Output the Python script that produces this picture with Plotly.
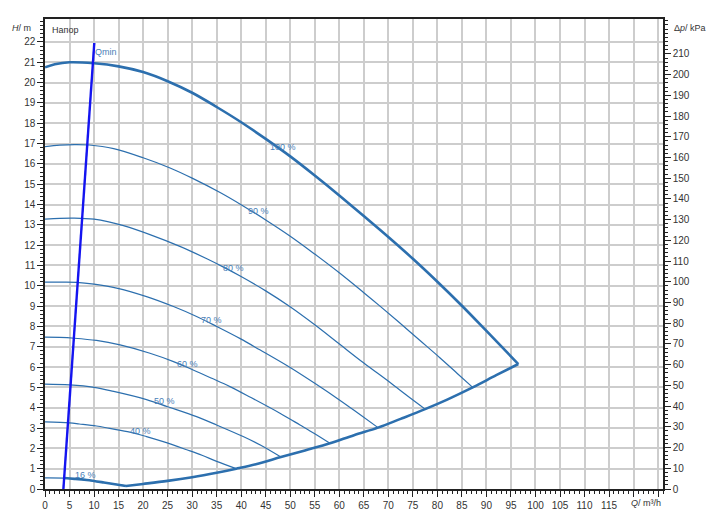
import plotly.graph_objects as go

# ---------------- data ----------------
KPA_PER_M = 9.807
X_MAX = 126.0
Y_MAX = 23.13

q100 = [0, 2, 5, 10, 15, 20, 25, 30, 35, 40, 45, 50, 55, 60, 65, 70, 75, 80, 85, 90, 96.5]
h100 = [20.75, 20.9, 21.0, 20.95, 20.8, 20.52, 20.07, 19.5, 18.8, 18.05, 17.23, 16.37, 15.43, 14.45, 13.43, 12.4, 11.33, 10.2, 9.02, 7.78, 6.15]

q90 = [0, 3, 6, 9, 14, 20, 25.5, 30, 35.7, 40.4, 45, 50, 55, 60, 65, 68.3, 72, 76.4, 80.5, 84, 87.2]
h90 = [16.85, 16.92, 16.95, 16.93, 16.75, 16.3, 15.8, 15.3, 14.59, 13.93, 13.24, 12.44, 11.56, 10.64, 9.66, 9.0, 8.24, 7.32, 6.46, 5.7, 5.0]

q80 = [0, 3, 6, 10, 13, 16, 21.4, 27.5, 33, 36.4, 39.8, 45, 49.9, 55, 60.1, 65, 70.3, 74, 77.5]
h80 = [13.28, 13.32, 13.33, 13.28, 13.15, 12.96, 12.52, 11.94, 11.33, 10.92, 10.48, 9.75, 8.98, 8.08, 7.12, 6.2, 5.25, 4.56, 3.93]

q70 = [0, 3, 6.5, 10, 14.6, 20.7, 26.2, 30.9, 35, 39.8, 43.8, 49.9, 55, 60.1, 64, 67.9]
h70 = [10.18, 10.18, 10.17, 10.08, 9.89, 9.47, 8.98, 8.49, 8.0, 7.4, 6.85, 5.99, 5.2, 4.37, 3.7, 3.02]

q60 = [0, 3, 6, 10.5, 15.3, 21.4, 26.2, 30.2, 34, 37.7, 42, 47.9, 52, 55, 58.1]
h60 = [7.47, 7.46, 7.42, 7.31, 7.09, 6.68, 6.27, 5.86, 5.45, 5.04, 4.5, 3.73, 3.15, 2.72, 2.25]

q50 = [0, 5, 10, 14, 20.7, 25, 30.9, 35, 40.4, 44, 48.1]
h50 = [5.16, 5.12, 5.0, 4.8, 4.4, 4.05, 3.56, 3.15, 2.58, 2.15, 1.57]

q40 = [0, 5, 7, 10.5, 13.2, 17.3, 20.7, 24.1, 28.9, 32, 35, 39]
h40 = [3.3, 3.25, 3.2, 3.1, 2.98, 2.8, 2.58, 2.33, 1.93, 1.66, 1.36, 1.0]

q16 = [0, 3.9, 6, 8.5, 12, 16.5]
h16 = [0.55, 0.54, 0.5, 0.44, 0.32, 0.15]

q_sys = [16.5, 20, 25, 30, 35, 39, 43, 48.1, 53, 58.1, 63, 67.9, 72.5, 77.5, 82, 87.2, 92, 96.5]
h_sys = [0.15, 0.25, 0.4, 0.58, 0.8, 1.0, 1.22, 1.57, 1.9, 2.25, 2.65, 3.02, 3.45, 3.93, 4.4, 5.0, 5.6, 6.15]

q_min = [3.75, 10.05]
h_min = [0.0, 21.95]

label_text = ["Qmin", "100 %", "90 %", "80 %", "70 %", "60 %", "50 %", "40 %", "16 %"]
label_q = [12.4, 48.6, 43.6, 38.5, 33.9, 29.0, 24.3, 19.4, 8.2]
label_h = [21.5, 16.85, 13.66, 10.9, 8.33, 6.16, 4.35, 2.87, 0.69]

x_ticks = list(range(0, 130, 5))
x_ticktext = [str(v) if v <= 115 else "" for v in x_ticks]
y_ticks = list(range(0, 23))
kpa_ticks = list(range(0, 220, 10))

# ---------------- styles ----------------
CURVE = "#2c6fae"
THICK = 2.6
THIN = 1.2
FONT = "Liberation Sans, Arial, sans-serif"
TXT = "#333333"
GRID = "#cdcdcd"

fig = go.Figure()

def add_curve(q, h, width):
    fig.add_trace(go.Scatter(x=q, y=h, mode="lines",
                             line=dict(color=CURVE, width=width, shape="spline", smoothing=1.0),
                             hoverinfo="skip", showlegend=False))

for q, h in [(q90, h90), (q80, h80), (q70, h70), (q60, h60), (q50, h50), (q40, h40)]:
    add_curve(q, h, THIN)

add_curve(q16, h16, THIN)
# thick boundary part of the 16 % curve (right of Qmin)
add_curve([q for q in q16 if q >= q_min[0]], [h for q, h in zip(q16, h16) if q >= q_min[0]], THICK)
add_curve(q_sys, h_sys, THICK)
add_curve(q100, h100, THICK)

fig.add_trace(go.Scatter(x=q_min, y=h_min, mode="lines",
                         line=dict(color="#1414f0", width=2.4),
                         hoverinfo="skip", showlegend=False))

# invisible trace to enable the right axis
fig.add_trace(go.Scatter(x=[0], y=[0], yaxis="y2", mode="markers",
                         marker=dict(opacity=0), hoverinfo="skip", showlegend=False))

for t, q, h in zip(label_text, label_q, label_h):
    fig.add_annotation(x=q, y=h, text=t, showarrow=False,
                       font=dict(family=FONT, size=9, color="#4a80b8"),
                       xanchor="center", yanchor="middle")

fig.add_annotation(x=1.0, y=22.6, text="Напор", showarrow=False, xanchor="left",
                   font=dict(family=FONT, size=9, color=TXT))
fig.add_annotation(xref="paper", x=-0.019, y=22.7, text="<i>H</i>/ m", showarrow=False,
                   xanchor="right", font=dict(family=FONT, size=9, color=TXT))
fig.add_annotation(xref="paper", x=1.0146, y=22.7, text="Δ<i>p</i>/ kPa", showarrow=False,
                   xanchor="left", font=dict(family=FONT, size=9, color=TXT))
fig.add_annotation(x=122.6, yref="paper", y=-0.03, text="<i>Q</i>/ m³/h", showarrow=False,
                   xanchor="center", yanchor="middle", font=dict(family=FONT, size=9, color=TXT))

axis_common = dict(showline=True, linecolor="#222222", linewidth=1.5,
                   ticks="outside", tickcolor="#222222", ticklen=6, tickwidth=1,
                   tickfont=dict(family=FONT, size=10, color=TXT), automargin=False,
                   zeroline=False, gridcolor=GRID, gridwidth=1.5, fixedrange=True)

fig.update_layout(
    width=708, height=526,
    margin=dict(l=45, r=45, t=19, b=37, pad=0),
    paper_bgcolor="white", plot_bgcolor="white",
    showlegend=False,
    xaxis=dict(range=[0, X_MAX], tickmode="array", tickvals=x_ticks, ticktext=x_ticktext,
               showgrid=True, mirror=True,
               minor=dict(dtick=1, ticklen=3, tickcolor="#222222", showgrid=False, ticks="outside"),
               **axis_common),
    yaxis=dict(range=[0, Y_MAX], tickmode="array", tickvals=y_ticks, showgrid=True,
               minor=dict(dtick=0.2, ticklen=3, tickcolor="#222222", showgrid=False, ticks="outside"),
               **axis_common),
    yaxis2=dict(range=[0, Y_MAX * KPA_PER_M], overlaying="y", side="right",
                tickmode="array", tickvals=kpa_ticks, showgrid=False,
                minor=dict(dtick=2, ticklen=3, tickcolor="#222222", showgrid=False, ticks="outside"),
                **axis_common),
)

fig.write_html("out.html", config={"displayModeBar": False},
               post_script="document.body.style.margin='0';")
